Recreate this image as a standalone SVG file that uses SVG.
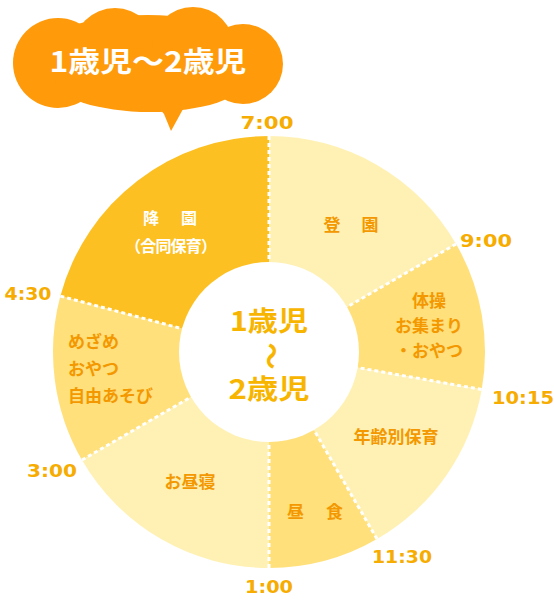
<svg xmlns="http://www.w3.org/2000/svg" width="554" height="604" viewBox="0 0 554 604">
<style>
.dark{fill:#FDC022}
.mid{fill:#FFE07B}
.light{fill:#FFF1B4}
.sep{stroke:#FFFFFF;stroke-width:3;stroke-dasharray:4 3;fill:none}
.lbl{font-family:"Noto Sans CJK JP","Noto Sans",sans-serif;font-weight:700;font-size:17px;fill:#F39800}
.lblw{font-family:"Noto Sans CJK JP","Noto Sans",sans-serif;font-weight:700;font-size:16px;fill:#FFFFFF}
.time{font-family:"DejaVu Sans","Liberation Sans",sans-serif;font-weight:700;font-size:18px;fill:#F6AC00}
.ctr{font-family:"Noto Sans CJK JP","Noto Sans",sans-serif;font-weight:700;font-size:27px;fill:#F8B500}
.bub{fill:#FF9A0A}
.btxt{font-family:"Noto Sans CJK JP","Noto Sans",sans-serif;font-weight:700;font-size:28px;fill:#FFFFFF}
</style>
<rect width="554" height="604" fill="#FFFFFF"/>

<g id="bubble">
<ellipse class="bub" cx="148" cy="62" rx="120" ry="47"/>
<circle class="bub" cx="58" cy="63" r="45"/>
<circle class="bub" cx="115" cy="50" r="42"/>
<circle class="bub" cx="193" cy="48" r="41"/>
<circle class="bub" cx="243" cy="64" r="40"/>
<ellipse class="bub" cx="150" cy="80" rx="95" ry="32"/>
<polygon class="bub" points="152,100 164,114 171,131 188,100"/>
<text class="btxt" x="148" y="72" text-anchor="middle" textLength="197" lengthAdjust="spacingAndGlyphs">1歳児～2歳児</text>
</g>

<g id="seg-touen">
<path class="light" d="M269,352 L269,136 A216,216 0 0 1 456.06,244 Z"/>
<text class="lbl" x="351" y="231" text-anchor="middle" textLength="55" lengthAdjust="spacing">登　園</text>
</g>
<g id="seg-taisou">
<path class="mid" d="M269,352 L456.06,244 A216,216 0 0 1 481.72,389.5 Z"/>
<text class="lbl" x="429" y="307" text-anchor="middle">体操</text>
<text class="lbl" x="429" y="332" text-anchor="middle">お集まり</text>
<text class="lbl" x="429" y="357" text-anchor="middle">・おやつ</text>
</g>
<g id="seg-nenrei">
<path class="light" d="M269,352 L481.72,389.5 A216,216 0 0 1 377,539.06 Z"/>
<text class="lbl" x="396" y="443" text-anchor="middle">年齢別保育</text>
</g>
<g id="seg-chushoku">
<path class="mid" d="M269,352 L377,539.06 A216,216 0 0 1 269,568 Z"/>
<text class="lbl" x="315" y="518" text-anchor="middle" textLength="56" lengthAdjust="spacing">昼　食</text>
</g>
<g id="seg-hirune">
<path class="light" d="M269,352 L269,568 A216,216 0 0 1 81.94,460 Z"/>
<text class="lbl" x="190" y="488" text-anchor="middle">お昼寝</text>
</g>
<g id="seg-mezame">
<path class="mid" d="M269,352 L81.94,460 A216,216 0 0 1 60.37,296.1 Z"/>
<text class="lbl" x="68" y="348">めざめ</text>
<text class="lbl" x="68" y="375">おやつ</text>
<text class="lbl" x="68" y="402">自由あそび</text>
</g>
<g id="seg-kouen">
<path class="dark" d="M269,352 L60.37,296.1 A216,216 0 0 1 269,136 Z"/>
<text class="lblw" x="170" y="224" text-anchor="middle" textLength="54" lengthAdjust="spacing">降　園</text>
<text class="lblw" x="171" y="252" text-anchor="middle" textLength="92" lengthAdjust="spacing">（合同保育）</text>
</g>

<g id="connectors">
<line class="sep" x1="269" y1="136" x2="269" y2="262"/>
<line class="sep" x1="456.06" y1="244" x2="346.08" y2="307.5"/>
<line class="sep" x1="481.72" y1="389.5" x2="356.65" y2="367.45"/>
<line class="sep" x1="377" y1="539.06" x2="313.5" y2="429.08"/>
<line class="sep" x1="269" y1="568" x2="269" y2="441"/>
<line class="sep" x1="81.94" y1="460" x2="191.92" y2="396.5"/>
<line class="sep" x1="60.37" y1="296.1" x2="183.03" y2="328.97"/>
</g>

<g id="center">
<circle cx="269" cy="352" r="90" fill="#FFFFFF"/>
<text class="ctr" x="269" y="331" text-anchor="middle" textLength="78" lengthAdjust="spacingAndGlyphs">1歳児</text>
<text class="ctr" x="0" y="0" text-anchor="middle" font-size="22" transform="translate(269,356) rotate(90) translate(0,8)">～</text>
<text class="ctr" x="269" y="399" text-anchor="middle" textLength="81" lengthAdjust="spacingAndGlyphs">2歳児</text>
</g>

<g id="times">
<text class="time" x="267" y="129" text-anchor="middle" textLength="53" lengthAdjust="spacingAndGlyphs">7:00</text>
<text class="time" x="486" y="247" text-anchor="middle" textLength="52" lengthAdjust="spacingAndGlyphs">9:00</text>
<text class="time" x="523" y="404" text-anchor="middle" textLength="62" lengthAdjust="spacingAndGlyphs">10:15</text>
<text class="time" x="402" y="563" text-anchor="middle" textLength="60" lengthAdjust="spacingAndGlyphs">11:30</text>
<text class="time" x="269" y="593" text-anchor="middle" textLength="48" lengthAdjust="spacingAndGlyphs">1:00</text>
<text class="time" x="52" y="477" text-anchor="middle" textLength="50" lengthAdjust="spacingAndGlyphs">3:00</text>
<text class="time" x="28" y="300" text-anchor="middle" textLength="47" lengthAdjust="spacingAndGlyphs">4:30</text>
</g>
</svg>
